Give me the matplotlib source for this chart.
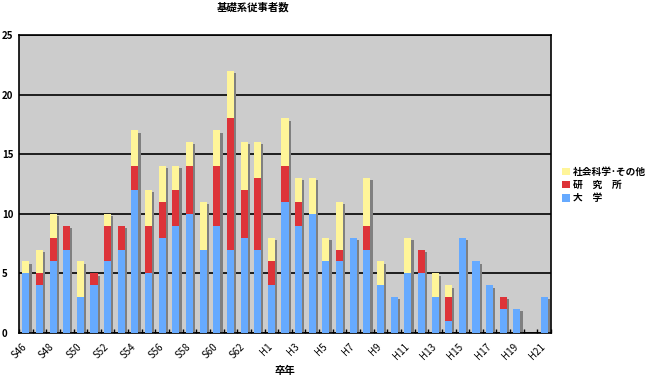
import matplotlib
matplotlib.use("Agg")
import matplotlib.pyplot as plt
import matplotlib.patheffects as pe
import matplotlib.transforms as mtransforms
import numpy as np

plt.rcParams['font.family'] = ['Noto Sans CJK JP', 'DejaVu Sans']

years = ["S46", "S47", "S48", "S49", "S50", "S51", "S52", "S53", "S54", "S55",
         "S56", "S57", "S58", "S59", "S60", "S61", "S62", "S63",
         "H1", "H2", "H3", "H4", "H5", "H6", "H7", "H8", "H9", "H10",
         "H11", "H12", "H13", "H14", "H15", "H16", "H17", "H18", "H19", "H20", "H21"]
univ = [5, 4, 6, 7, 3, 4, 6, 7, 12, 5,
        8, 9, 10, 7, 9, 7, 8, 7,
        4, 11, 9, 10, 6, 6, 8, 7, 4, 3,
        5, 5, 3, 1, 8, 6, 4, 2, 2, 0, 3]
inst = [0, 1, 2, 2, 0, 1, 3, 2, 2, 4,
        3, 3, 4, 0, 5, 11, 4, 6,
        2, 3, 2, 0, 0, 1, 0, 2, 0, 0,
        0, 2, 0, 2, 0, 0, 0, 1, 0, 0, 0]
other = [1, 2, 2, 0, 3, 0, 1, 0, 3, 3,
         3, 2, 2, 4, 3, 4, 4, 3,
         2, 4, 2, 3, 2, 4, 0, 4, 2, 0,
         3, 0, 2, 1, 0, 0, 0, 0, 0, 0, 0]
series_labels = ["社会科学･その他", "研　究　所", "大　学"]
title = "基礎系従事者数"
xlabel = "卒年"

c_blue = "#66AAFF"
c_red = "#DD3339"
c_yel = "#FFF599"

fig = plt.figure(figsize=(6.49, 3.77), dpi=100)
ax = fig.add_axes([19/649, 44/377, 532/649, 298/377])
ax.set_facecolor("#CCCCCC")

x = np.arange(len(years))
u = np.array(univ)
r = np.array(inst)
o = np.array(other)
tot = u + r + o
w = 0.52

# shadow
shadow_tr = ax.transData + mtransforms.ScaledTranslation(2.2/100, -2.2/100, fig.dpi_scale_trans)
for xi, t in zip(x, tot):
    if t > 0:
        ax.bar(xi, t, width=w, color="#808080", transform=shadow_tr, zorder=2, linewidth=0)

b3 = ax.bar(x, u, width=w, color=c_blue, zorder=3, linewidth=0, label=series_labels[2])
b2 = ax.bar(x, r, width=w, bottom=u, color=c_red, zorder=3, linewidth=0, label=series_labels[1])
b1 = ax.bar(x, o, width=w, bottom=u + r, color=c_yel, zorder=3, linewidth=0, label=series_labels[0])

ax.set_xlim(-0.5, len(years) - 0.5)
ax.set_ylim(0, 25)
ax.set_yticks([0, 5, 10, 15, 20, 25])
ax.yaxis.grid(True, color="black", linewidth=1.2, zorder=1)
ax.set_axisbelow(True)
ax.tick_params(axis='y', length=0, pad=0)
for lab in ax.get_yticklabels():
    lab.set_fontsize(7)
    lab.set_fontweight('bold')
    lab.set_horizontalalignment('left')
    lab.set_x(-0.032)

# x ticks at boundaries, labels every 2 at centers
ax.set_xticks(np.arange(len(years) + 1) - 0.5)
ax.set_xticklabels([])
ax.tick_params(axis='x', which='major', direction='in', length=3, width=1)
ax.set_xticks(x[::2], minor=True)
ax.set_xticklabels(years[::2], minor=True, rotation=45, ha='right', va='top',
                   rotation_mode='anchor', fontsize=7)
ax.tick_params(axis='x', which='minor', length=0, pad=6)
off = mtransforms.ScaledTranslation(-4/100, 0, fig.dpi_scale_trans)
for lab in ax.get_xticklabels(minor=True):
    lab.set_transform(lab.get_transform() + off)

for s in ax.spines.values():
    s.set_color("black")
    s.set_linewidth(1.2)

fig.text(253/649, 1 - 7/377, title, ha='center', va='center', fontsize=7.5, fontweight='bold')
fig.text(285/649, 1 - 371/377, xlabel, ha='center', va='center', fontsize=7.5, fontweight='bold')

leg = fig.legend(handles=[b1, b2, b3], labels=series_labels, loc='center left',
                 bbox_to_anchor=(558/649, 1 - 185/377), frameon=False, fontsize=7,
                 handlelength=0.8, handleheight=0.8, handletextpad=0.3, labelspacing=0.35,
                 borderaxespad=0, prop={'weight': 'bold', 'size': 7})

fig.savefig("out.png", dpi=100)
